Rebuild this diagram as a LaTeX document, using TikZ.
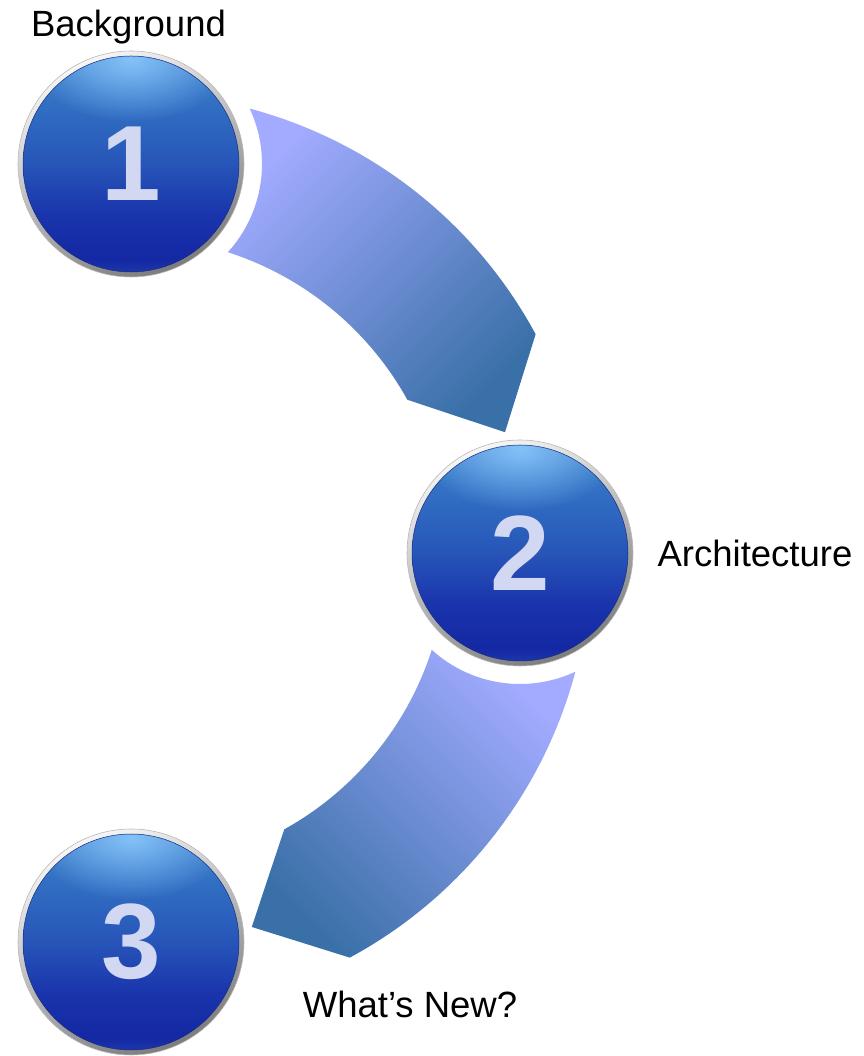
\documentclass[tikz,border=0pt]{standalone}
\usepackage{fontspec}
\setmainfont{Liberation Sans}
\usetikzlibrary{calc,fadings}
\definecolor{bandLight}{HTML}{A2ABFF}
\definecolor{bandDark}{HTML}{3A70A8}
\definecolor{rimLight}{HTML}{F6F6F6}
\definecolor{rimDark}{HTML}{7C7C7C}
\definecolor{numColor}{HTML}{D3D8F2}
\definecolor{ballEdge}{HTML}{1A2C80}
\definecolor{hlColor}{HTML}{8ECCFF}
\definecolor{sA}{HTML}{1C36AA}
\definecolor{sB}{HTML}{1428A4}
\definecolor{sC}{HTML}{1934AC}
\definecolor{sD}{HTML}{2755B8}
\definecolor{sE}{HTML}{2E68C0}
\definecolor{sF}{HTML}{3676C6}
\definecolor{sG}{HTML}{4A88D2}
\pgfdeclareverticalshading{sphereshade}{100bp}{color(0bp)=(sA); color(25bp)=(sA); color(28bp)=(sB); color(38bp)=(sC); color(50bp)=(sD); color(60bp)=(sE); color(68bp)=(sF); color(75bp)=(sG); color(100bp)=(sG)}
\tikzfading[name=glowfade, inner color=transparent!15, outer color=transparent!100]
\newcommand\mybandpath[1]{%
  ($(C)+({75.05+#1}:460)$) arc[start angle={75.05+#1}, end angle={28.4+#1}, radius=460]
  -- ($(C)+({17.9+#1}:393)$) -- ($(C)+({29.0+#1}:316)$)
  arc[start angle={29.0+#1}, end angle={72.15+#1}, radius=316]
  arc[start angle={-42.32+#1}, end angle={25.02+#1}, radius=131] -- cycle}
\newcommand\myglow[1]{%
  \begin{scope}
    \clip (#1) circle[radius=107.5];
    \fill[hlColor, path fading=glowfade] ($(#1)+(0,104)$) ellipse[x radius=100, y radius=62];
  \end{scope}}
\tikzset{
  rimnode/.style={circle, inner sep=0, minimum size=226, top color=rimLight, bottom color=rimDark, shading angle=25, draw=gray!55, line width=0.6},
  ball/.style={circle, inner sep=0, minimum size=216, shade, shading=sphereshade, draw=ballEdge, line width=0.5, text=numColor, font=\fontsize{107}{107}\selectfont\bfseries},
  lbl/.style={inner sep=0, anchor=base, font=\fontsize{36.5}{40}\selectfont, text=black}
}
\begin{document}
\begin{tikzpicture}[x=1pt,y=1pt]
\useasboundingbox (0,0) rectangle (863,1056);
\coordinate (C) at (131,503);
\coordinate (c1) at (131,892);
\coordinate (c2) at (520,503);
\coordinate (c3) at (131,114);
% bands
\shade[top color=bandLight, bottom color=bandDark, shading angle=45] \mybandpath{0};
\shade[top color=bandLight, bottom color=bandDark, shading angle=-45] \mybandpath{-90};
% rims
\node[rimnode] (r1) at (c1) {};
\node[rimnode] (r2) at (c2) {};
\node[rimnode] (r3) at (c3) {};
% balls
\node[ball] (n1) at (c1) {1};
\node[ball] (n2) at (c2) {2};
\node[ball] (n3) at (c3) {3};
\myglow{c1}
\myglow{c2}
\myglow{c3}
% labels
\node[lbl] (t1) at (128.5,1019) {Background};
\node[lbl] (t2) at (755,489) {Architecture};
\node[lbl] (t3) at (410,38) {What’s New?};
\end{tikzpicture}
\end{document}
